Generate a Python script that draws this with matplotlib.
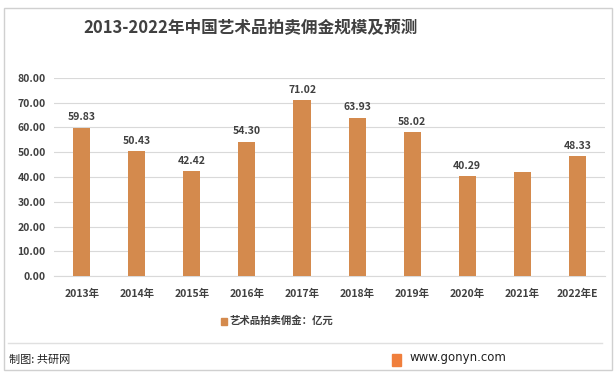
import matplotlib.pyplot as plt
from matplotlib.patches import Rectangle
from matplotlib.lines import Line2D

plt.rcParams['font.family'] = ['Noto Sans CJK SC', 'DejaVu Sans']

# data
years = ['2013年', '2014年', '2015年', '2016年', '2017年',
         '2018年', '2019年', '2020年', '2021年', '2022年E']
values = [59.83, 50.43, 42.42, 54.30, 71.02, 63.93, 58.02, 40.29, 42.0, 48.33]
labels = ['59.83', '50.43', '42.42', '54.30', '71.02', '63.93', '58.02', '40.29', '', '48.33']
yticks = [0, 10, 20, 30, 40, 50, 60, 70, 80]

bar_color = '#D48A4D'
text_color = '#404040'

fig = plt.figure(figsize=(6.16, 3.73), dpi=100)
ax = fig.add_axes([0.088, 0.260, 0.894, 0.531])

x = range(len(years))
bars = ax.bar(x, values, width=0.31, color=bar_color, zorder=3)

for xi, v, lab in zip(x, values, labels):
    if lab:
        ax.text(xi, v + 2.2, lab, ha='center', va='bottom', fontsize=7.5,
                fontweight='bold', color=text_color)

ax.set_xlim(-0.5, len(years) - 0.5)
ax.set_ylim(0, 80)
ax.set_yticks(yticks)
ax.set_yticklabels(['%.2f' % t for t in yticks], fontsize=7.5,
                   fontweight='bold', color=text_color)
ax.set_xticks(list(x))
ax.set_xticklabels(years, fontsize=7.5, fontweight='bold', color=text_color)
ax.tick_params(axis='both', length=0)
ax.tick_params(axis='x', pad=9)
ax.tick_params(axis='y', pad=6)
ax.grid(axis='y', color='#D9D9D9', linewidth=0.8, zorder=0)
for s in ['top', 'right', 'left']:
    ax.spines[s].set_visible(False)
ax.spines['bottom'].set_color('#D9D9D9')
ax.spines['bottom'].set_linewidth(0.8)

# title
fig.text(250 / 616, 1 - 28 / 373, '2013-2022年中国艺术品拍卖佣金规模及预测',
         ha='center', va='center', fontsize=12, fontweight='bold', color=text_color)

# legend
fig.patches.append(Rectangle((221 / 616, 1 - 325 / 373), 6 / 616, 7 / 373,
                             transform=fig.transFigure, color=bar_color))
fig.text(229 / 616, 1 - 321 / 373, '艺术品拍卖佣金：亿元', ha='left', va='center',
         fontsize=7.5, fontweight='bold', color=text_color)

# border and footer
fig.patches.append(Rectangle((4 / 616, 3 / 373), 608 / 616, 362 / 373,
                             transform=fig.transFigure, fill=False,
                             edgecolor='#D0D0D0', linewidth=1))
fig.lines.append(Line2D([8 / 616, 602 / 616], [1 - 343 / 373, 1 - 343 / 373],
                        transform=fig.transFigure, color='#E0E0E0', linewidth=1))
fig.text(9 / 616, 1 - 360 / 373, '制图: 共研网', ha='left', va='center',
         fontsize=8, color='#202020')
fig.patches.append(Rectangle((392 / 616, 1 - 366 / 373), 9 / 616, 12 / 373,
                             transform=fig.transFigure, color='#F07F3C'))
fig.text(410 / 616, 1 - 358 / 373, 'www.gonyn.com', ha='left', va='center',
         fontsize=8.5, color='#202020', family='DejaVu Sans')

fig.savefig('out.png', dpi=100)
